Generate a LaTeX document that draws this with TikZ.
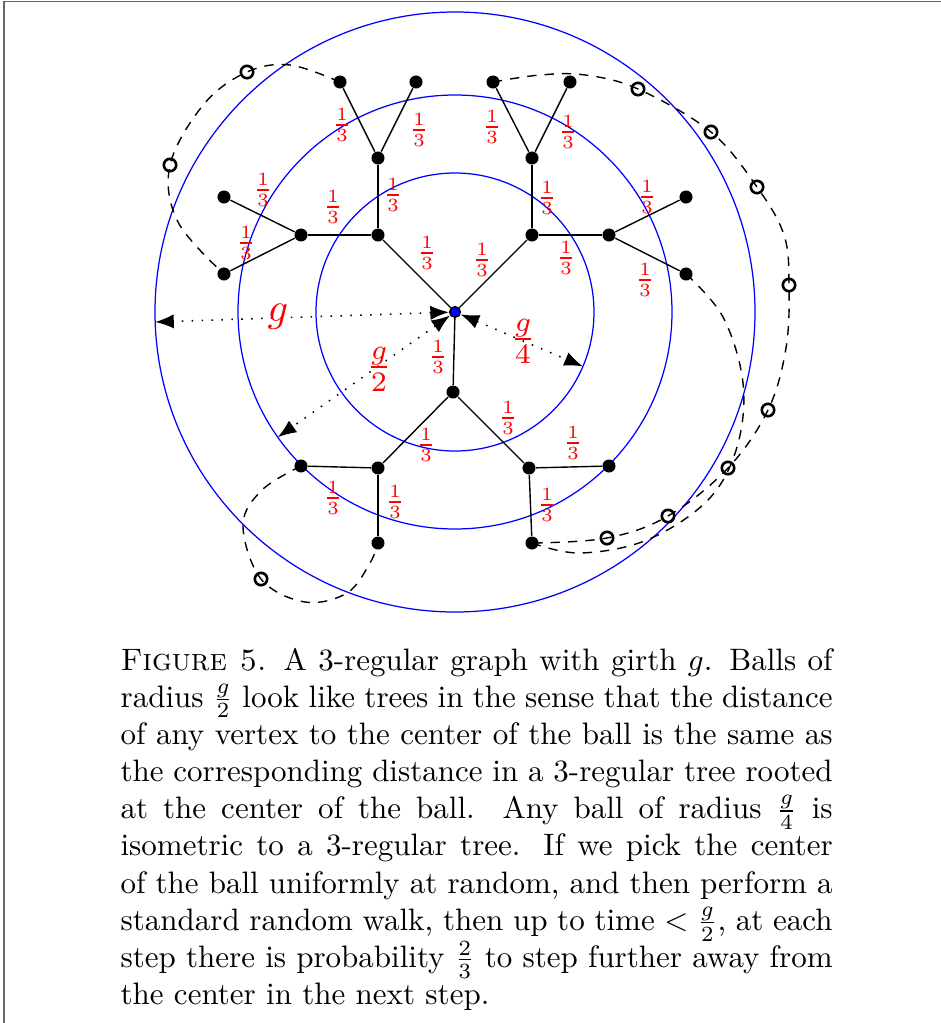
\documentclass[tikz,border=0pt]{standalone}
\usetikzlibrary{arrows.meta}
\begin{document}
\begin{tikzpicture}[x=0.3226pt,y=-0.3226pt,
  vtx/.style={circle,fill=black,inner sep=0pt,minimum size=4.2pt},
  ovtx/.style={circle,draw=black,line width=0.85pt,inner sep=0pt,minimum size=4pt},
  ctr/.style={circle,fill=blue,draw=black,line width=0.5pt,inner sep=0pt,minimum size=3.4pt},
  prob/.style={text=red,inner sep=0pt,font=\fontsize{9}{11}\selectfont},
  rad/.style={text=red,inner sep=0pt,font=\fontsize{10}{12}\selectfont,scale=1.3,transform shape},
  ball/.style={draw=blue,line width=0.4pt},
  tedge/.style={line width=0.45pt},
  radarrow/.style={dash pattern=on 0.5pt off 2.7pt,line width=0.5pt,
    {Latex[length=6pt,width=4.6pt]}-{Latex[length=6pt,width=4.6pt]}},
  cyc/.style={dash pattern=on 3pt off 2.6pt,line width=0.45pt},
  frame/.style={draw=black!60,line width=0.6pt}]
\useasboundingbox (0,0) rectangle (941,1023);
\draw[frame] (4,1023) -- (4,1.5) -- (941,1.5);

% balls
\draw[ball] (455,312) circle[radius=139];
\draw[ball] (455,312) circle[radius=217];
\draw[ball] (455,312) circle[radius=300];

% vertices
\node[ctr] (c) at (455,312) {};
\node[vtx] (a) at (378,235) {};
\node[vtx] (b) at (532,235) {};
\node[vtx] (d) at (453,392) {};
\node[vtx] (a1) at (378,158) {};
\node[vtx] (a2) at (301,235) {};
\node[vtx] (b1) at (532,158) {};
\node[vtx] (b2) at (609,235) {};
\node[vtx] (d1) at (378,468) {};
\node[vtx] (d2) at (529,468) {};
\node[vtx] (a11) at (340,82) {};
\node[vtx] (a12) at (416,82) {};
\node[vtx] (a21) at (224,197) {};
\node[vtx] (a22) at (224,274) {};
\node[vtx] (b11) at (493,82) {};
\node[vtx] (b12) at (570,82) {};
\node[vtx] (b21) at (686,197) {};
\node[vtx] (b22) at (686,274) {};
\node[vtx] (d11) at (301,466) {};
\node[vtx] (d12) at (378,543) {};
\node[vtx] (d21) at (609,466) {};
\node[vtx] (d22) at (532,543) {};

% open vertices on the cycles
\node[ovtx] (o1) at (247,72) {};
\node[ovtx] (o2) at (170,165) {};
\node[ovtx] (o3) at (638,89) {};
\node[ovtx] (o4) at (711,132) {};
\node[ovtx] (o5) at (757,187) {};
\node[ovtx] (o6) at (789,285) {};
\node[ovtx] (o7) at (768,410) {};
\node[ovtx] (o8) at (728,468) {};
\node[ovtx] (o9) at (668,516) {};
\node[ovtx] (o10) at (607,538) {};
\node[ovtx] (o11) at (261,579) {};

% helper points for the cycles
\coordinate (q1) at (290,65);
\coordinate (q2) at (204,104);
\coordinate (q3) at (178,222);
\coordinate (r1) at (540,75);
\coordinate (r2) at (585,75);
\coordinate (r3) at (784,235);
\coordinate (r4) at (786,348);
\coordinate (s1) at (723,317);
\coordinate (s2) at (743,383);
\coordinate (s3) at (737,447);
\coordinate (s4) at (708,500);
\coordinate (s5) at (647,540);
\coordinate (s6) at (580,553);
\coordinate (t1) at (262,490);
\coordinate (t2) at (243,525);
\coordinate (t3) at (305,602);
\coordinate (t4) at (347,593);
\coordinate (t5) at (370,563);

% cycles (dashed)
\draw[cyc] plot[smooth,tension=0.6] coordinates {(a11) (q1) (o1) (q2) (o2) (q3) (a22)};
\draw[cyc] plot[smooth,tension=0.6] coordinates {(b11) (r1) (r2) (o3) (o4) (o5) (r3) (o6) (r4) (o7) (o8) (o9) (o10) (d22)};
\draw[cyc] plot[smooth,tension=0.6] coordinates {(b22) (s1) (s2) (s3) (s4) (s5) (s6) (d22)};
\draw[cyc] plot[smooth,tension=0.6] coordinates {(d11) (t1) (t2) (o11) (t3) (t4) (t5) (d12)};

% tree edges
\draw[tedge] (c) -- (a);
\draw[tedge] (c) -- (b);
\draw[tedge] (c) -- (d);
\draw[tedge] (a) -- (a1);
\draw[tedge] (a) -- (a2);
\draw[tedge] (b) -- (b1);
\draw[tedge] (b) -- (b2);
\draw[tedge] (d) -- (d1);
\draw[tedge] (d) -- (d2);
\draw[tedge] (a1) -- (a11);
\draw[tedge] (a1) -- (a12);
\draw[tedge] (a2) -- (a21);
\draw[tedge] (a2) -- (a22);
\draw[tedge] (b1) -- (b11);
\draw[tedge] (b1) -- (b12);
\draw[tedge] (b2) -- (b21);
\draw[tedge] (b2) -- (b22);
\draw[tedge] (d1) -- (d11);
\draw[tedge] (d1) -- (d12);
\draw[tedge] (d2) -- (d21);
\draw[tedge] (d2) -- (d22);

% probabilities
\node[prob] (p1) at (342,125) {$\frac13$};
\node[prob] (p2) at (419,130) {$\frac13$};
\node[prob] (p3) at (263,190) {$\frac13$};
\node[prob] (p4) at (333,207) {$\frac13$};
\node[prob] (p5) at (393,195) {$\frac13$};
\node[prob] (p6) at (246,243) {$\frac13$};
\node[prob] (p7) at (427,253) {$\frac13$};
\node[prob] (p8) at (492,127) {$\frac13$};
\node[prob] (p9) at (568,132) {$\frac13$};
\node[prob] (p10) at (547,198) {$\frac13$};
\node[prob] (p11) at (647,197) {$\frac13$};
\node[prob] (p12) at (566,258) {$\frac13$};
\node[prob] (p13) at (645,280) {$\frac13$};
\node[prob] (p14) at (482,260) {$\frac13$};
\node[prob] (p15) at (438,357) {$\frac13$};
\node[prob] (p16) at (426,445) {$\frac13$};
\node[prob] (p17) at (333,498) {$\frac13$};
\node[prob] (p18) at (395,502) {$\frac13$};
\node[prob] (p19) at (508,418) {$\frac13$};
\node[prob] (p20) at (573,443) {$\frac13$};
\node[prob] (p21) at (547,505) {$\frac13$};

% radii
\coordinate (e1) at (155.2,322);
\coordinate (e2) at (277.8,437.2);
\coordinate (e4) at (582.9,366.4);
\draw[radarrow] (c) -- (e1);
\draw[radarrow] (c) -- (e2);
\draw[radarrow] (c) -- (e4);
\node[rad] (lg) at (278,317) {$g$};
\node[rad] (lg2) at (379,369) {$\frac{g}{2}$};
\node[rad] (lg4) at (523,341) {$\frac{g}{4}$};

% caption
\node[anchor=base west,inner sep=0pt,text width=229.7pt,align=justify,
  font=\fontsize{10}{12}\selectfont] (cap) at (120,670)
{\textsc{Figure 5.} A 3-regular graph with girth $g$. Balls of\linebreak
radius $\frac{g}{2}$ look like trees in the sense that the distance\linebreak
of any vertex to the center of the ball is the same as\linebreak
the corresponding distance in a 3-regular tree rooted\linebreak
at the center of the ball. Any ball of radius $\frac{g}{4}$ is\linebreak
isometric to a 3-regular tree. If we pick the center\linebreak
of the ball uniformly at random, and then perform a\linebreak
standard random walk, then up to time $<\frac{g}{2}$, at each\linebreak
step there is probability $\frac{2}{3}$ to step further away from\linebreak
the center in the next step.};
\end{tikzpicture}
\end{document}
